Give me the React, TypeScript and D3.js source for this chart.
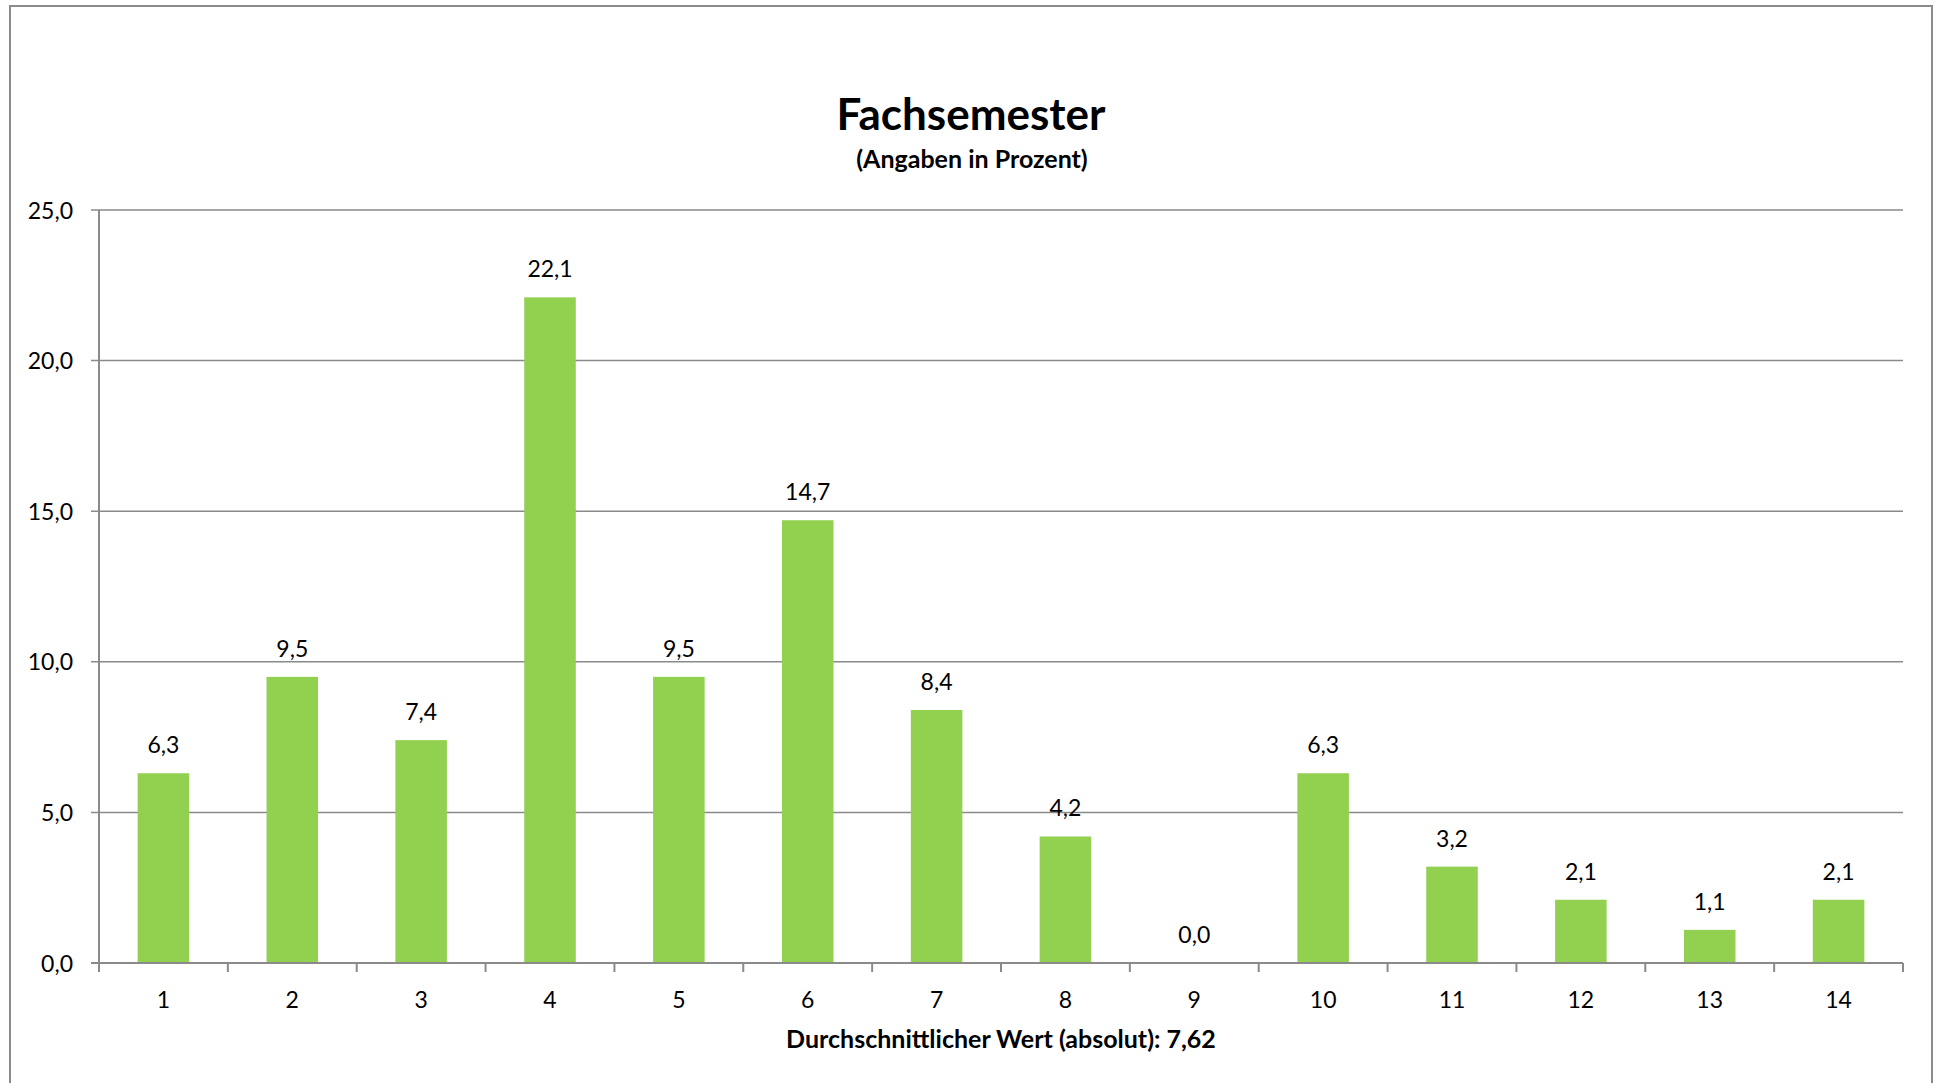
import React, { useEffect, useRef } from "react";
import * as d3 from "d3";

const categories: string[] = ["1", "2", "3", "4", "5", "6", "7", "8", "9", "10", "11", "12", "13", "14"];
const values: number[] = [6.3, 9.5, 7.4, 22.1, 9.5, 14.7, 8.4, 4.2, 0.0, 6.3, 3.2, 2.1, 1.1, 2.1];
const yTicks: number[] = [0, 5, 10, 15, 20, 25];
const title = "Fachsemester";
const subtitle = "(Angaben in Prozent)";
const xTitle = "Durchschnittlicher Wert (absolut): 7,62";

const W = 1934;
const H = 1083;
const FONT = "Lato, 'Open Sans', sans-serif";
const fmt = (v: number) => v.toFixed(1).replace(".", ",");

export default function App() {
  const ref = useRef<SVGSVGElement | null>(null);

  useEffect(() => {
    const svg = d3.select(ref.current);
    svg.selectAll("*").remove();

    const left = 99, right = 1903, top = 210, bottom = 963;
    const x = d3.scaleBand<string>().domain(categories).range([left, right]).paddingInner(0.6).paddingOuter(0.3);
    const xOuter = d3.scaleBand<string>().domain(categories).range([left, right]);
    const y = d3.scaleLinear().domain([0, 25]).range([bottom, top]);

    // frame
    svg.append("rect").attr("x", 10).attr("y", 6).attr("width", 1922).attr("height", 1100)
      .attr("fill", "white").attr("stroke", "#8c8c8c").attr("stroke-width", 2);

    // gridlines
    const grid = svg.append("g");
    yTicks.forEach((t) => {
      grid.append("line").attr("x1", left - 8).attr("x2", right)
        .attr("y1", y(t)).attr("y2", y(t))
        .attr("stroke", "#8a8a8a").attr("stroke-width", t === 0 ? 2 : 1.5);
      svg.append("text").attr("x", 73).attr("y", y(t) + 8.5)
        .attr("text-anchor", "end").attr("font-family", FONT).attr("font-size", 23)
        .attr("fill", "#000").text(fmt(t));
    });

    // y axis line
    svg.append("line").attr("x1", left).attr("x2", left).attr("y1", top).attr("y2", bottom + 9)
      .attr("stroke", "#8a8a8a").attr("stroke-width", 2);

    // x ticks
    categories.forEach((c) => {
      const xe = (xOuter(c) as number) + xOuter.bandwidth();
      svg.append("line").attr("x1", xe).attr("x2", xe).attr("y1", bottom).attr("y2", bottom + 9)
        .attr("stroke", "#8a8a8a").attr("stroke-width", 2);
    });

    // bars
    svg.append("g").selectAll("rect").data(values).join("rect")
      .attr("x", (_, i) => x(categories[i]) as number)
      .attr("width", x.bandwidth())
      .attr("y", (d) => y(d))
      .attr("height", (d) => bottom - y(d))
      .attr("fill", "#92D050");

    // redraw baseline on top
    svg.append("line").attr("x1", left - 8).attr("x2", right).attr("y1", bottom).attr("y2", bottom)
      .attr("stroke", "#8a8a8a").attr("stroke-width", 2);

    // value labels
    svg.append("g").selectAll("text").data(values).join("text")
      .attr("x", (_, i) => (x(categories[i]) as number) + x.bandwidth() / 2)
      .attr("y", (d) => y(d) - 20)
      .attr("text-anchor", "middle").attr("font-family", FONT).attr("font-size", 23)
      .attr("fill", "#000").text((d) => fmt(d));

    // category labels
    svg.append("g").selectAll("text").data(categories).join("text")
      .attr("x", (c) => (xOuter(c) as number) + xOuter.bandwidth() / 2)
      .attr("y", 1008)
      .attr("text-anchor", "middle").attr("font-family", FONT).attr("font-size", 23)
      .attr("fill", "#000").text((c) => c);

    // titles
    svg.append("text").attr("x", 971).attr("y", 130).attr("text-anchor", "middle")
      .attr("font-family", FONT).attr("font-weight", "bold").attr("font-size", 44).text(title);
    svg.append("text").attr("x", 972).attr("y", 168).attr("text-anchor", "middle")
      .attr("font-family", FONT).attr("font-weight", "bold").attr("font-size", 25).text(subtitle);
    svg.append("text").attr("x", (left + right) / 2).attr("y", 1048).attr("text-anchor", "middle")
      .attr("font-family", FONT).attr("font-weight", "bold").attr("font-size", 25).text(xTitle);
  }, []);

  return (
    <svg ref={ref} width={W} height={H}
      style={{ position: "absolute", left: 0, top: 0, display: "block", background: "white" }} />
  );
}
